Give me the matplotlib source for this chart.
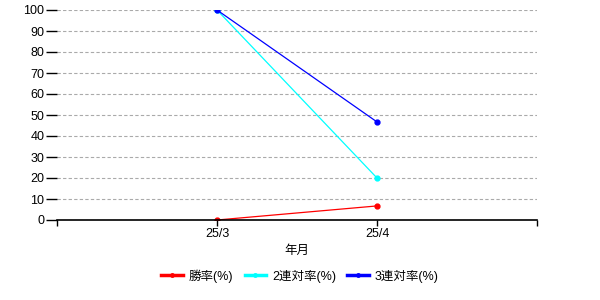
import matplotlib
matplotlib.use("Agg")
import matplotlib.pyplot as plt
from matplotlib.lines import Line2D

plt.rcParams['font.family'] = ['Liberation Sans', 'Noto Sans CJK JP']

months = ["25/3", "25/4"]
win = [0, 6.7]
ren2 = [100, 20]
ren3 = [100, 46.7]
xpos = [1, 2]
names = ["勝率(%)", "2連対率(%)", "3連対率(%)"]
colors = ["red", "cyan", "blue"]

fig = plt.figure(figsize=(6, 3), dpi=100)
ax = fig.add_axes([57/600, 1-220/300, 480/600, 210/300])

for vals, c in zip([win, ren2, ren3], colors):
    ax.plot(xpos, vals, color=c, lw=0.9, marker="o", ms=3.5)

ax.set_xlim(0, 3)
ax.set_ylim(0, 100)
ax.set_yticks(range(0, 101, 10))
ax.set_xticks([0, 1, 2, 3])
ax.set_xticklabels([""] + months + [""])
ax.grid(axis="y", color="#aaaaaa", ls=(0, (3, 2)), lw=0.8)
ax.set_axisbelow(True)
for s in ["top", "right", "left"]:
    ax.spines[s].set_visible(False)
ax.spines["bottom"].set_linewidth(1.2)
ax.tick_params(axis="y", length=8, width=1, labelsize=9, pad=1)
ax.tick_params(axis="x", length=4, width=1, labelsize=9, pad=2)
ax.set_xlabel("年月", fontsize=9, labelpad=3)

handles = [Line2D([], [], color=c, lw=2.5, marker="o", ms=2.5) for c in colors]
fig.legend(handles, names, loc="center", bbox_to_anchor=(0.5, 0.08), ncol=3, frameon=False,
           fontsize=9, handlelength=1.7, handletextpad=0.5, columnspacing=0.9)

fig.savefig("out.png")
